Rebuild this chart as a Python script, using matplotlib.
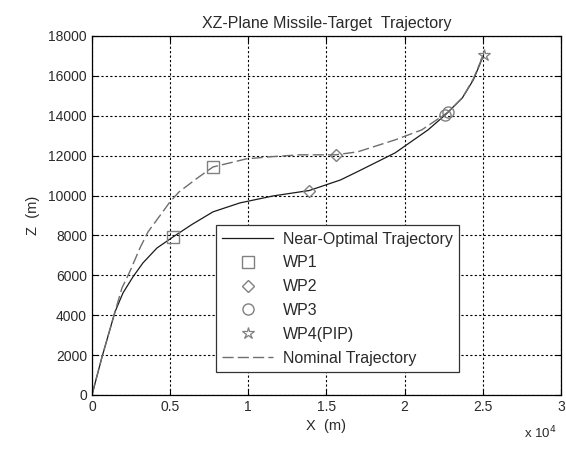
import numpy as np
import matplotlib
matplotlib.use('Agg')
import matplotlib.pyplot as plt
from matplotlib.ticker import FuncFormatter

plt.rcParams['font.family'] = ['Liberation Sans', 'DejaVu Sans']

# near-optimal trajectory (solid)
opt_x = [0, 640, 1470, 1980, 2620, 3260, 4160, 5180, 6400, 7740, 9470, 11600,
         13900, 15900, 17000, 19400, 21500, 22600, 23700, 24400, 24800, 25050]
opt_z = [0, 1900, 4160, 5110, 5920, 6620, 7370, 7920, 8550, 9180, 9630, 9980,
         10250, 10780, 11200, 12140, 13290, 14040, 14900, 15800, 16550, 17050]

# nominal trajectory (dashed)
nom_x = [0, 640, 1470, 1920, 2430, 3070, 3580, 4480, 4990, 5570, 6700, 7740,
         9900, 11400, 13300, 15600, 17000, 18000, 19400, 21100, 22800, 23700,
         24400, 24800, 25050]
nom_z = [0, 1900, 4160, 5370, 6200, 7370, 8170, 9130, 9680, 10180, 10850, 11430,
         11840, 11940, 12040, 12040, 12190, 12440, 12790, 13290, 14190, 14900,
         15850, 16600, 17050]

# way points: (near-optimal, nominal)
wp1_x, wp1_z = [5180, 7740], [7920, 11430]
wp2_x, wp2_z = [13900, 15600], [10250, 12020]
wp3_x, wp3_z = [22600, 22800], [14040, 14190]
wp4_x, wp4_z = [25050], [17050]

x_ticks = [0, 5000, 10000, 15000, 20000, 25000, 30000]
y_ticks = list(range(0, 18001, 2000))

txt = '#2a2a2a'
mk = '#808080'

fig = plt.figure(figsize=(5.66, 4.49), dpi=100)
ax = fig.add_axes([0.1625, 0.1203, 0.8285, 0.7997])

ax.plot(opt_x, opt_z, color='#1a1a1a', lw=0.9, label='Near-Optimal Trajectory')
ax.plot(wp1_x, wp1_z, ls='none', marker='s', ms=8, mfc='none', mec=mk, mew=1, label='WP1')
ax.plot(wp2_x, wp2_z, ls='none', marker='D', ms=6.5, mfc='none', mec=mk, mew=1, label='WP2')
ax.plot(wp3_x, wp3_z, ls='none', marker='o', ms=8, mfc='none', mec=mk, mew=1, label='WP3')
ax.plot(wp4_x, wp4_z, ls='none', marker='*', ms=9, mfc='none', mec=mk, mew=0.9, label='WP4(PIP)')
ax.plot(nom_x, nom_z, color='#6e6e6e', lw=1.0, dashes=(8, 3), label='Nominal Trajectory')

ax.set_xlim(0, 30000)
ax.set_ylim(0, 18000)
ax.set_xticks(x_ticks)
ax.set_yticks(y_ticks)
ax.xaxis.set_major_formatter(FuncFormatter(lambda v, p: f'{v / 1e4:g}'))
ax.grid(True, color='black', linestyle=(0, (2, 2)), linewidth=0.8)
ax.tick_params(direction='in', top=True, right=True, length=4,
               labelsize=10, colors='black', labelcolor=txt)
for s in ax.spines.values():
    s.set_linewidth(0.9)

ax.set_title('XZ-Plane Missile-Target  Trajectory', fontsize=11.5, color=txt, pad=6)
ax.set_xlabel('X  (m)', fontsize=10.5, color=txt, labelpad=4)
ax.set_ylabel('Z  (m)', fontsize=10.5, color=txt, labelpad=6)
fig.text(0.955, 0.018, r'x 10$^4$', fontsize=9.5, color=txt, ha='center', va='bottom')

leg = ax.legend(loc='lower left', bbox_to_anchor=(0.264, 0.064), fontsize=11.5,
                frameon=True, fancybox=False, edgecolor='#333333', framealpha=1,
                handlelength=3.2, labelspacing=0.55, borderpad=0.4,
                handletextpad=0.6, borderaxespad=0)
leg.get_frame().set_linewidth(0.9)
for t in leg.get_texts():
    t.set_color(txt)

fig.savefig('out.png', dpi=100)
